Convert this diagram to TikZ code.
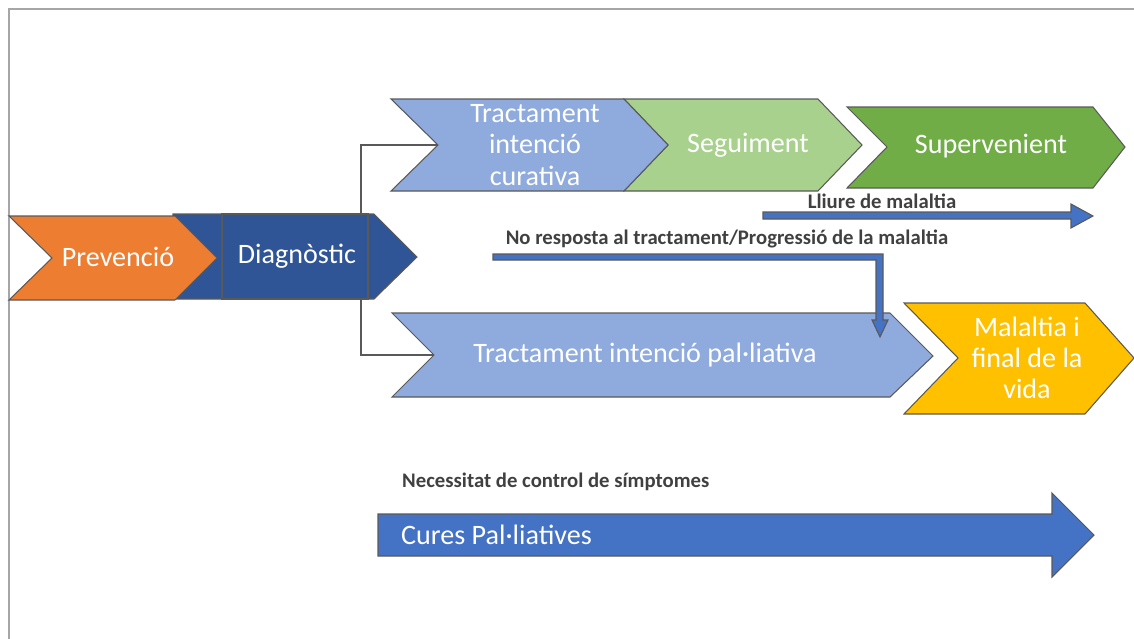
\documentclass[tikz,border=0pt]{standalone}
\usepackage{fontspec}
\setmainfont{Carlito}

\definecolor{framegray}{HTML}{A6A6A6}
\definecolor{linegray}{HTML}{595959}
\definecolor{labelgray}{HTML}{404040}
\definecolor{prevorange}{HTML}{ED7D31}
\definecolor{diagblue}{HTML}{2F5597}
\definecolor{lightblue}{HTML}{8FAADC}
\definecolor{lightgreen}{HTML}{A9D18E}
\definecolor{midgreen}{HTML}{70AD47}
\definecolor{endyellow}{HTML}{FFC000}
\definecolor{arrowblue}{HTML}{4472C4}

\begin{document}
\begin{tikzpicture}[%
      x=0.02cm, y=-0.02cm,
      shapeline/.style={draw=linegray, line width=0.6pt, line join=miter},
      whitetext/.style={text=white, align=center, font=\fontsize{16}{17.8}\selectfont},
      boldtext/.style={text=labelgray, font=\bfseries\fontsize{11.8}{13}\selectfont},
      ]
      \useasboundingbox (0,0) rectangle (1134,639);
      \draw [color=framegray, line width=0.6pt] (1134,9) -- (9,9) -- (9,639);

      % connectors from the diagnosis
      \coordinate (diagtop) at (361,214);
      \coordinate (diagbot) at (361,299);
      \coordinate (curnotch) at (438,145);
      \coordinate (palnotch) at (434,355);
      \draw [color=linegray, line width=0.6pt] (diagtop) |- (curnotch);
      \draw [color=linegray, line width=0.6pt] (diagbot) |- (palnotch);

      % first row
      \filldraw [shapeline, fill=diagblue] (173,214) -- (374,214) -- (417,257) -- (374,299) -- (173,299) -- cycle;
      \draw [shapeline] (222,214) rectangle (368,299);
      \filldraw [shapeline, fill=prevorange] (9,216) -- (175,216) -- (217,258) -- (175,300) -- (9,300) -- (52,258) -- cycle;
      \node [whitetext] (prev) at (118,257) {Prevenció};
      \node [whitetext] (diag) at (297,256) {Diagnòstic};

      % curative branch
      \filldraw [shapeline, fill=midgreen] (847,107) -- (1093,107) -- (1125,147) -- (1093,188) -- (847,188) -- (887,147) -- cycle;
      \filldraw [shapeline, fill=lightgreen] (624,99) -- (818,99) -- (862,145) -- (818,191) -- (624,191) -- (668,145) -- cycle;
      \filldraw [shapeline, fill=lightblue] (391,99) -- (624,99) -- (668,145) -- (624,191) -- (391,191) -- (438,145) -- cycle;
      \node [whitetext] (curat) at (535,145) {Tractament\\intenció\\curativa};
      \node [whitetext] (segui) at (748,145) {Seguiment};
      \node [whitetext] (super) at (991,146) {Supervenient};

      \filldraw [shapeline, fill=arrowblue] (763,212) -- (1071,212) -- (1071,204) -- (1093,216) -- (1071,228) -- (1071,219) -- (763,219) -- cycle;
      \node [boldtext] (lliure) at (882,201) {Lliure de malaltia};

      % palliative branch
      \filldraw [shapeline, fill=lightblue] (392,313) -- (890,313) -- (933,356) -- (890,397) -- (392,397) -- (434,355) -- cycle;
      \filldraw [shapeline, fill=endyellow] (904,303) -- (1085,303) -- (1134,358) -- (1085,414) -- (904,414) -- (958,358) -- cycle;
      \node [whitetext] (palli) at (645,355) {Tractament intenció pal·liativa};
      \node [whitetext] (final) at (1027,358) {Malaltia i\\final de la\\vida};

      \node [boldtext] (noresp) at (727,239) {No resposta al tractament/Progressió de la malaltia};
      \filldraw [shapeline, fill=arrowblue] (493,254) -- (883,254) -- (883,320) -- (888,320) -- (880,337) -- (872,320) -- (876,320) -- (876,260) -- (493,260) -- cycle;

      % palliative care
      \node [boldtext, anchor=west] (necess) at (396,482) {Necessitat de control de símptomes};
      \filldraw [shapeline, fill=arrowblue] (378,514) -- (1052,514) -- (1052,493) -- (1094,535) -- (1052,577) -- (1052,556) -- (378,556) -- cycle;
      \node [whitetext, anchor=west] (cures) at (395,535) {Cures Pal·liatives};
\end{tikzpicture}
\end{document}
